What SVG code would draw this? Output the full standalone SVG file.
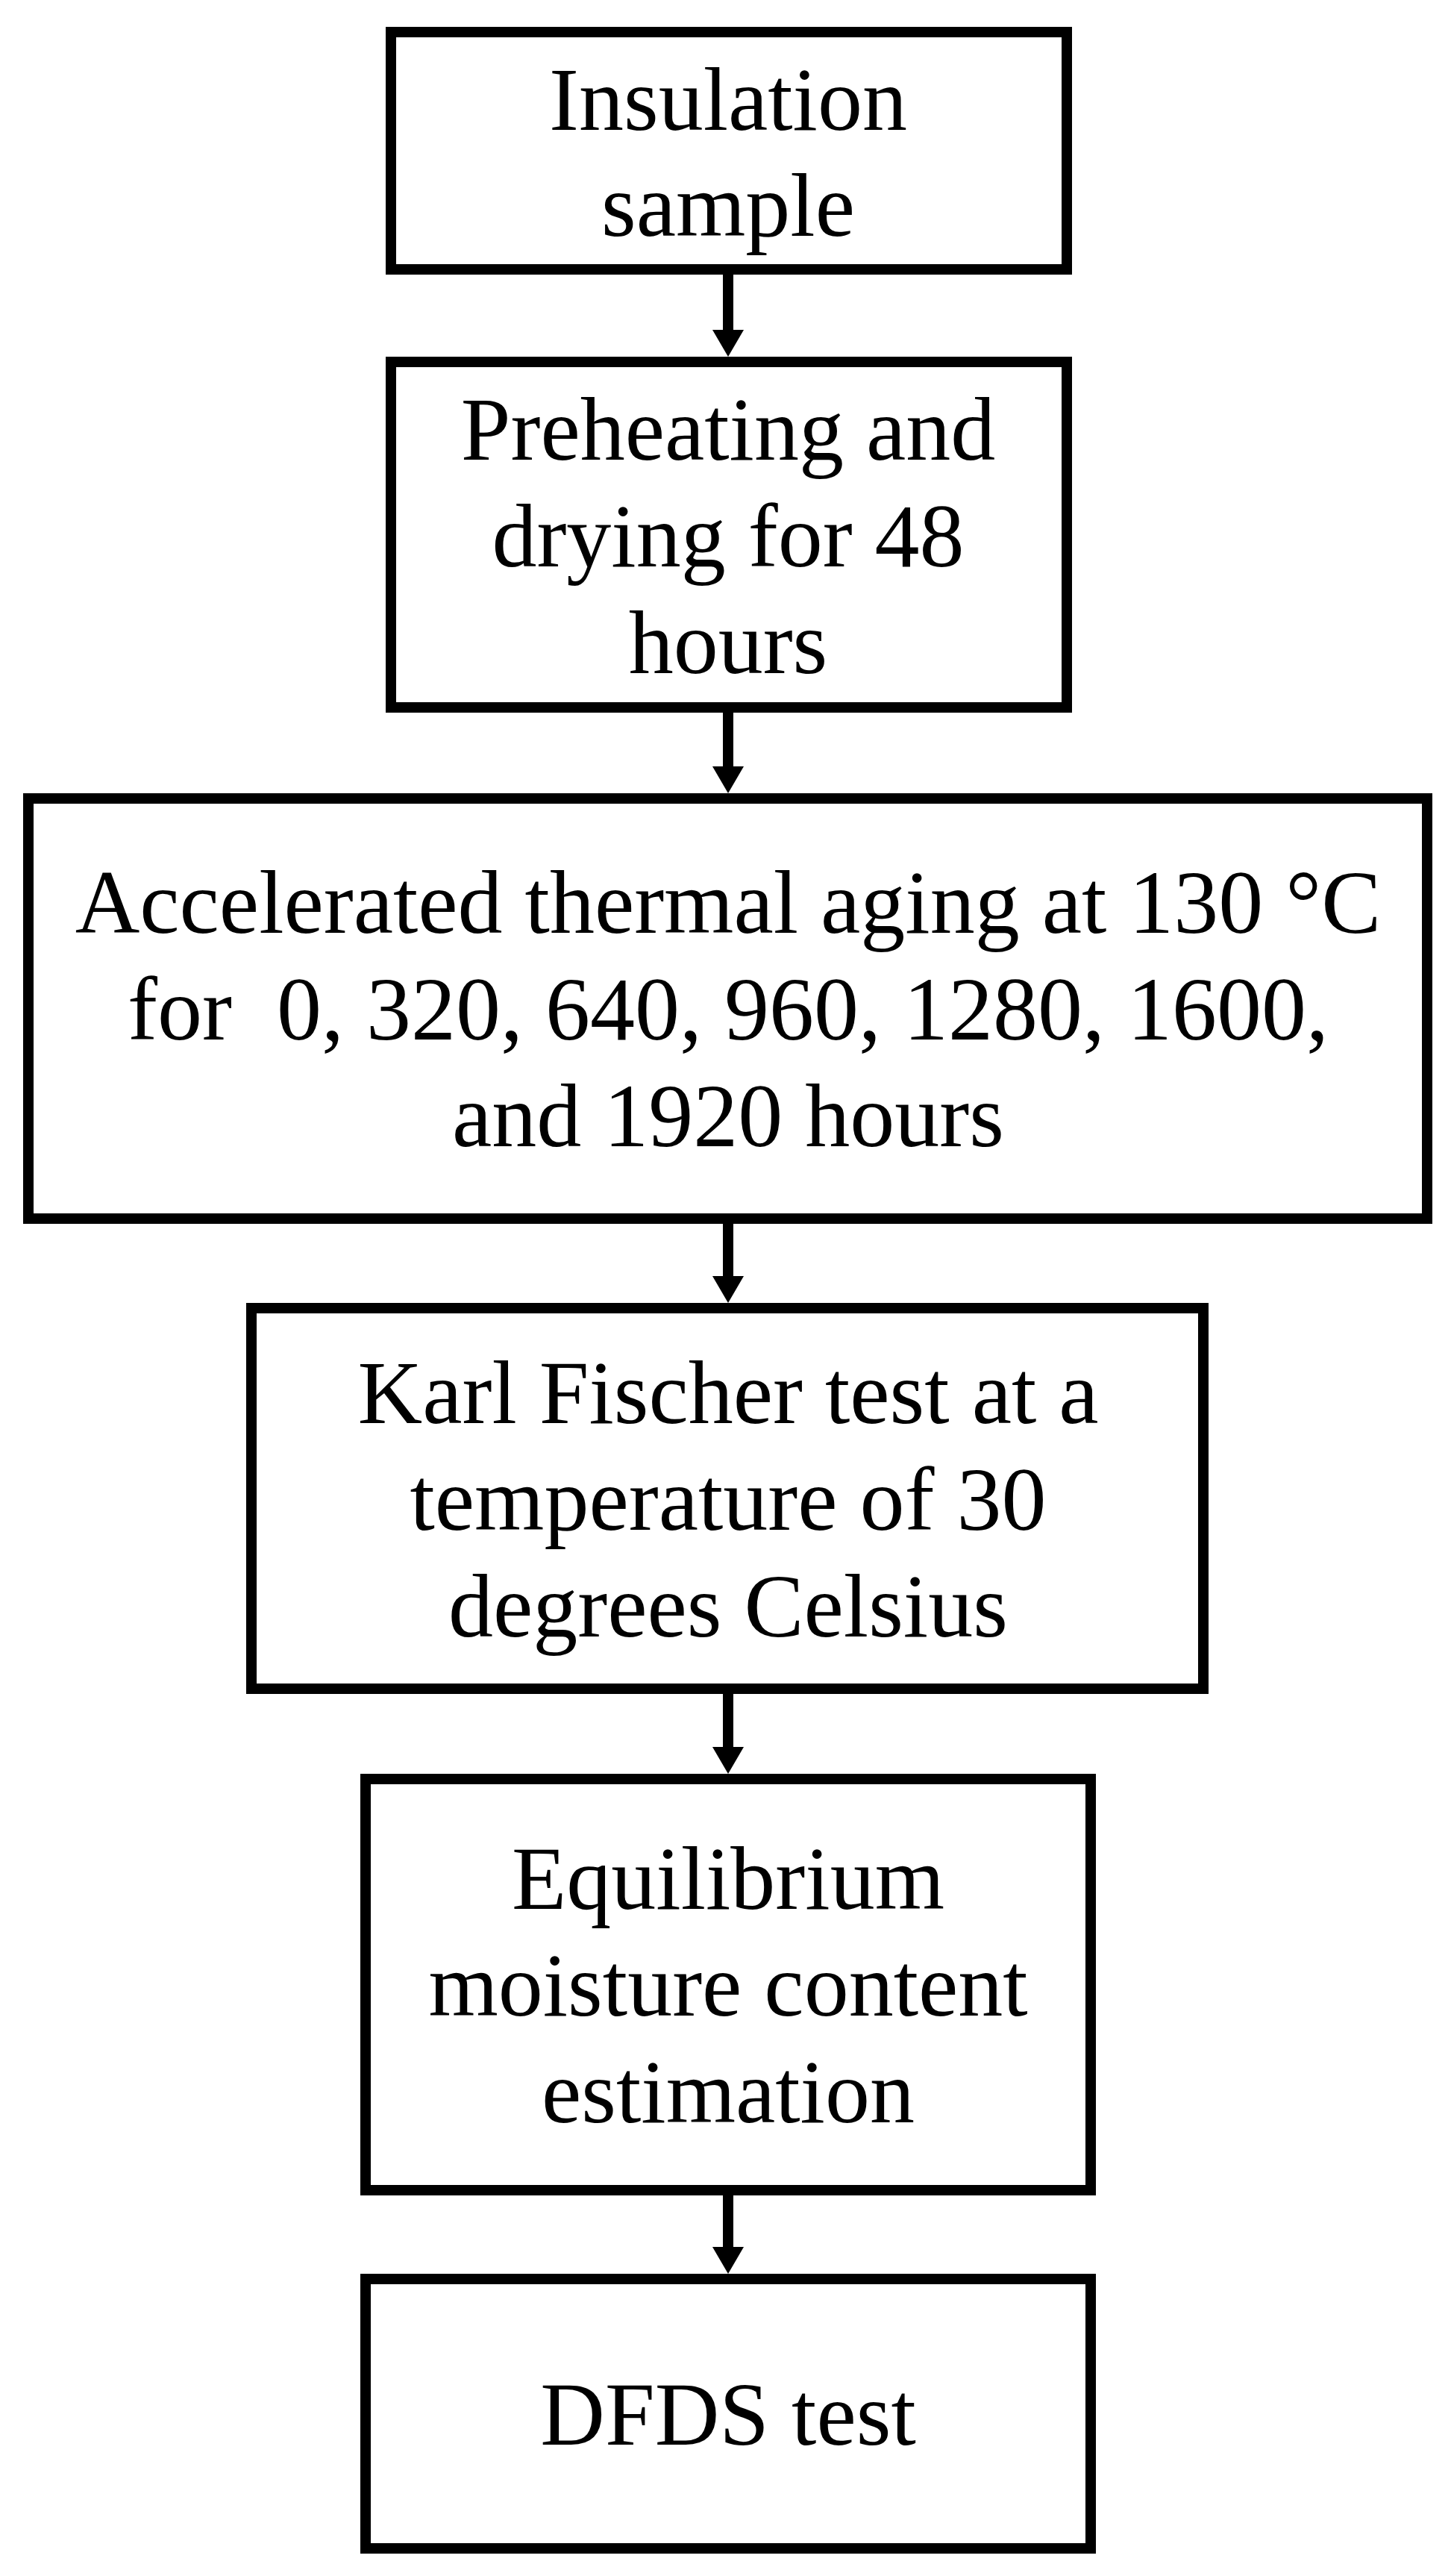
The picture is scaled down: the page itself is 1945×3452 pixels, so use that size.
<svg xmlns="http://www.w3.org/2000/svg" width="1945" height="3452" viewBox="0 0 1945 3452">
<style>
.box{fill:#ffffff;stroke:#000000;stroke-width:14}
.lbl{font-family:"Liberation Serif","Times New Roman",serif;font-size:120px;fill:#000000;text-anchor:middle}
.shaft{stroke:#000000;stroke-width:14;fill:none}
.head{fill:#000000}
</style>
<rect x="0" y="0" width="1945" height="3452" fill="#ffffff"/>
<g id="connectors">
<line class="shaft" x1="976" y1="368" x2="976" y2="444"/>
<polygon class="head" points="955,442 997,442 976,478"/>
<line class="shaft" x1="976" y1="955" x2="976" y2="1029"/>
<polygon class="head" points="955,1027 997,1027 976,1063"/>
<line class="shaft" x1="976" y1="1640" x2="976" y2="1712"/>
<polygon class="head" points="955,1710 997,1710 976,1746"/>
<line class="shaft" x1="976" y1="2270" x2="976" y2="2343"/>
<polygon class="head" points="955,2341 997,2341 976,2377"/>
<line class="shaft" x1="976" y1="2942" x2="976" y2="3013"/>
<polygon class="head" points="955,3011 997,3011 976,3047"/>
</g>
<g id="node1">
<rect class="box" x="524" y="43" width="906" height="318"/>
<text class="lbl" x="976" y="174">Insulation</text>
<text class="lbl" x="976" y="316">sample</text>
</g>
<g id="node2">
<rect class="box" x="524" y="485" width="906" height="463"/>
<text class="lbl" x="976" y="616">Preheating and</text>
<text class="lbl" x="976" y="759">drying for 48</text>
<text class="lbl" x="976" y="902">hours</text>
</g>
<g id="node3">
<rect class="box" x="38" y="1070" width="1875" height="563"/>
<text class="lbl" x="976" y="1250">Accelerated thermal aging at 130 °C</text>
<text class="lbl" x="976" y="1393" xml:space="preserve">for  0, 320, 640, 960, 1280, 1600,</text>
<text class="lbl" x="976" y="1536">and 1920 hours</text>
</g>
<g id="node4">
<rect class="box" x="337" y="1753" width="1276" height="510"/>
<text class="lbl" x="976" y="1907">Karl Fischer test at a</text>
<text class="lbl" x="976" y="2050">temperature of 30</text>
<text class="lbl" x="976" y="2193">degrees Celsius</text>
</g>
<g id="node5">
<rect class="box" x="490" y="2384" width="972" height="551"/>
<text class="lbl" x="976" y="2558">Equilibrium</text>
<text class="lbl" x="976" y="2701">moisture content</text>
<text class="lbl" x="976" y="2844">estimation</text>
</g>
<g id="node6">
<rect class="box" x="490" y="3054" width="972" height="361"/>
<text class="lbl" x="976" y="3276">DFDS test</text>
</g>
</svg>
